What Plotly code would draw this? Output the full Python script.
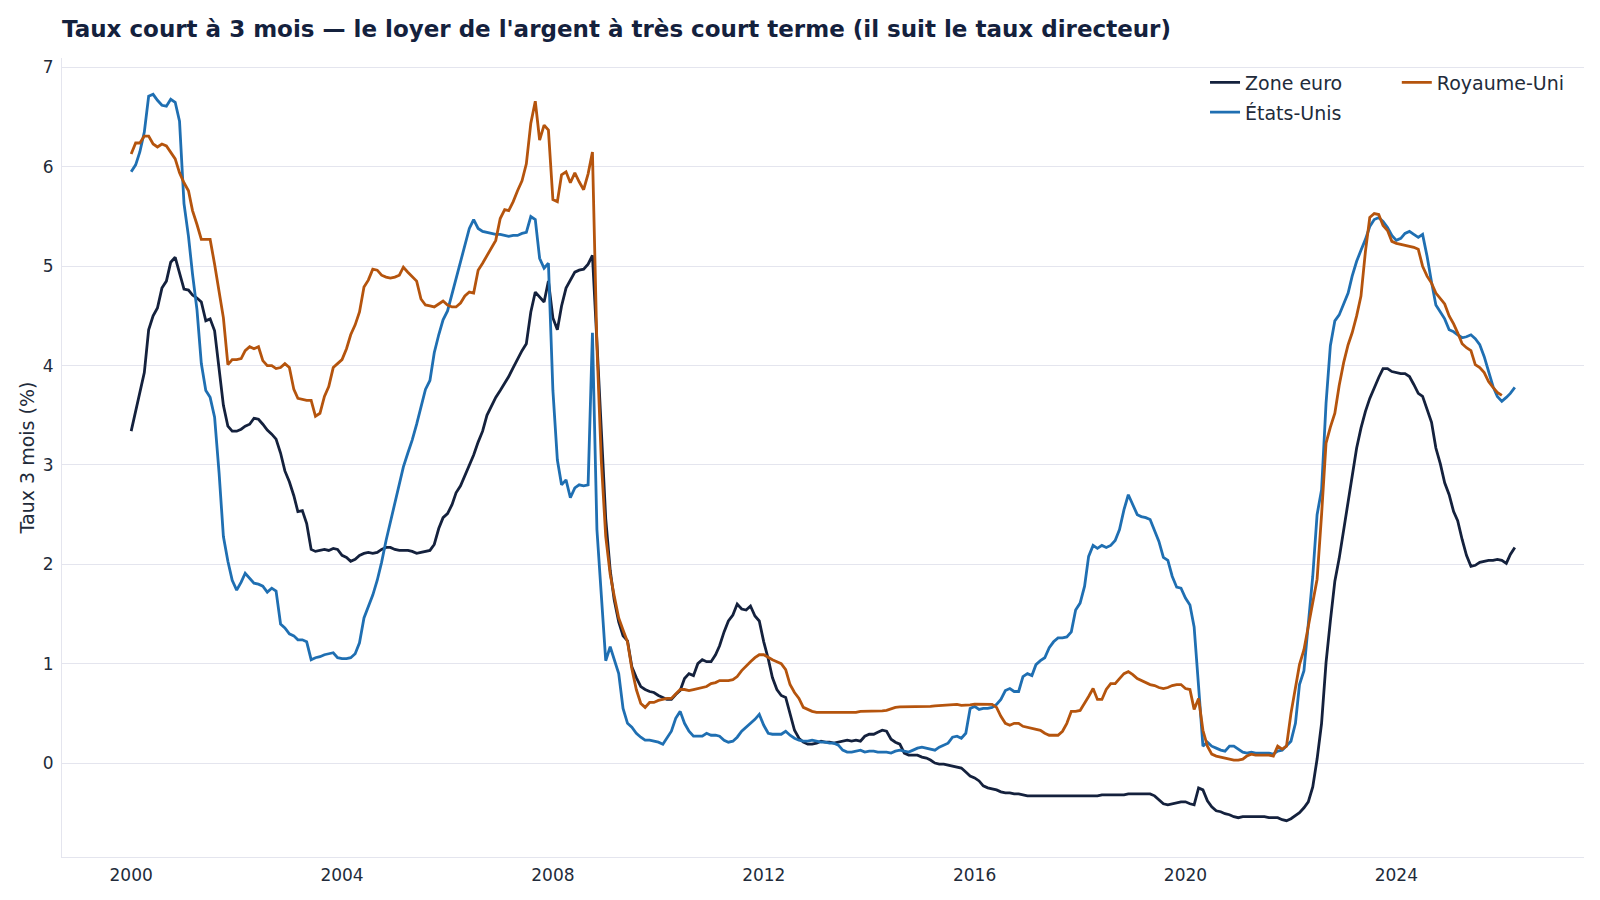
import pandas as pd
import plotly.graph_objects as go

# Taux à 3 mois, moyennes mensuelles (%), à partir de janvier 2000
start = "2000-01-01"

zone_euro = [
    3.34, 3.54, 3.75, 3.93, 4.36, 4.50, 4.58, 4.78, 4.85, 5.04, 5.09, 4.94,  # 2000
    4.77, 4.76, 4.71, 4.68, 4.64, 4.45, 4.47, 4.35, 3.98, 3.60, 3.39, 3.34,  # 2001
    3.34, 3.36, 3.39, 3.41, 3.47, 3.46, 3.41, 3.35, 3.31, 3.26, 3.12, 2.94,  # 2002
    2.83, 2.69, 2.53, 2.54, 2.41, 2.15, 2.13, 2.14, 2.15, 2.14, 2.16, 2.15,  # 2003
    2.09, 2.07, 2.03, 2.05, 2.09, 2.11, 2.12, 2.11, 2.12, 2.15, 2.17, 2.17,  # 2004
    2.15, 2.14, 2.14, 2.14, 2.13, 2.11, 2.12, 2.13, 2.14, 2.20, 2.36, 2.47,  # 2005
    2.51, 2.60, 2.72, 2.79, 2.89, 2.99, 3.10, 3.23, 3.34, 3.50, 3.60, 3.68,  # 2006
    3.75, 3.82, 3.89, 3.98, 4.07, 4.15, 4.22, 4.54, 4.74, 4.69, 4.64, 4.85,  # 2007
    4.48, 4.36, 4.60, 4.78, 4.86, 4.94, 4.96, 4.97, 5.02, 5.11, 4.24, 3.29,  # 2008
    2.46, 1.94, 1.64, 1.42, 1.28, 1.23, 0.97, 0.86, 0.77, 0.74, 0.72, 0.71,  # 2009
    0.68, 0.66, 0.64, 0.64, 0.69, 0.73, 0.85, 0.90, 0.88, 1.00, 1.04, 1.02,  # 2010
    1.02, 1.09, 1.18, 1.32, 1.43, 1.49, 1.60, 1.55, 1.54, 1.58, 1.48, 1.43,  # 2011
    1.22, 1.05, 0.86, 0.74, 0.68, 0.66, 0.50, 0.33, 0.25, 0.21, 0.19, 0.19,  # 2012
    0.20, 0.22, 0.21, 0.21, 0.20, 0.21, 0.22, 0.23, 0.22, 0.23, 0.22, 0.27,  # 2013
    0.29, 0.29, 0.31, 0.33, 0.32, 0.24, 0.21, 0.19, 0.10, 0.08, 0.08, 0.08,  # 2014
    0.06, 0.05, 0.03, 0.00, -0.01, -0.01, -0.02, -0.03, -0.04, -0.05, -0.09, -0.13,  # 2015
    -0.15, -0.18, -0.23, -0.25, -0.26, -0.27, -0.29, -0.30, -0.30, -0.31, -0.31, -0.32,  # 2016
    -0.33, -0.33, -0.33, -0.33, -0.33, -0.33, -0.33, -0.33, -0.33, -0.33, -0.33, -0.33,  # 2017
    -0.33, -0.33, -0.33, -0.33, -0.33, -0.32, -0.32, -0.32, -0.32, -0.32, -0.32, -0.31,  # 2018
    -0.31, -0.31, -0.31, -0.31, -0.31, -0.33, -0.37, -0.41, -0.42, -0.41, -0.40, -0.39,  # 2019
    -0.39, -0.41, -0.42, -0.25, -0.27, -0.38, -0.44, -0.48, -0.49, -0.51, -0.52, -0.54,  # 2020
    -0.55, -0.54, -0.54, -0.54, -0.54, -0.54, -0.54, -0.55, -0.55, -0.55, -0.57, -0.58,  # 2021
    -0.56, -0.53, -0.50, -0.45, -0.39, -0.24, 0.04, 0.40, 1.01, 1.43, 1.83, 2.06,  # 2022
    2.35, 2.64, 2.91, 3.17, 3.37, 3.54, 3.67, 3.78, 3.88, 3.97, 3.97, 3.94,  # 2023
    3.93, 3.92, 3.92, 3.89, 3.81, 3.72, 3.69, 3.55, 3.43, 3.17, 3.01, 2.82,  # 2024
    2.70, 2.53, 2.44, 2.25, 2.09, 1.98, 1.99, 2.02, 2.03, 2.04, 2.04, 2.05,  # 2025
    2.04, 2.01, 2.10, 2.17,  # 2026
]

etats_unis = [
    5.95, 6.02, 6.15, 6.35, 6.71, 6.73, 6.67, 6.62, 6.61, 6.68, 6.65, 6.46,  # 2000
    5.63, 5.30, 4.92, 4.56, 4.02, 3.75, 3.68, 3.48, 2.92, 2.28, 2.03, 1.84,  # 2001
    1.74, 1.82, 1.91, 1.86, 1.81, 1.80, 1.78, 1.72, 1.76, 1.73, 1.40, 1.36,  # 2002
    1.30, 1.28, 1.24, 1.24, 1.22, 1.04, 1.06, 1.07, 1.09, 1.10, 1.11, 1.06,  # 2003
    1.05, 1.05, 1.06, 1.10, 1.21, 1.46, 1.58, 1.69, 1.84, 2.02, 2.24, 2.42,  # 2004
    2.60, 2.78, 2.98, 3.12, 3.25, 3.41, 3.59, 3.76, 3.85, 4.13, 4.31, 4.46,  # 2005
    4.55, 4.72, 4.90, 5.06, 5.22, 5.38, 5.47, 5.38, 5.35, 5.34, 5.33, 5.32,  # 2006
    5.32, 5.31, 5.30, 5.31, 5.31, 5.33, 5.34, 5.50, 5.47, 5.08, 4.98, 5.03,  # 2007
    3.75, 3.05, 2.80, 2.85, 2.67, 2.77, 2.80, 2.79, 2.80, 4.33, 2.35, 1.70,  # 2008
    1.03, 1.17, 1.03, 0.90, 0.55, 0.40, 0.36, 0.30, 0.26, 0.23, 0.23, 0.22,  # 2009
    0.21, 0.19, 0.25, 0.32, 0.45, 0.52, 0.40, 0.32, 0.27, 0.27, 0.27, 0.30,  # 2010
    0.28, 0.28, 0.27, 0.23, 0.21, 0.22, 0.26, 0.32, 0.36, 0.40, 0.44, 0.49,  # 2011
    0.38, 0.30, 0.29, 0.29, 0.29, 0.32, 0.28, 0.25, 0.23, 0.22, 0.22, 0.23,  # 2012
    0.22, 0.21, 0.21, 0.20, 0.20, 0.18, 0.13, 0.11, 0.11, 0.12, 0.13, 0.11,  # 2013
    0.12, 0.12, 0.11, 0.11, 0.11, 0.10, 0.12, 0.13, 0.12, 0.11, 0.13, 0.15,  # 2014
    0.16, 0.15, 0.14, 0.13, 0.16, 0.18, 0.20, 0.26, 0.27, 0.25, 0.30, 0.55,  # 2015
    0.57, 0.54, 0.55, 0.55, 0.56, 0.59, 0.64, 0.73, 0.75, 0.72, 0.72, 0.87,  # 2016
    0.90, 0.88, 0.99, 1.03, 1.06, 1.16, 1.22, 1.26, 1.26, 1.27, 1.32, 1.54,  # 2017
    1.61, 1.78, 2.08, 2.19, 2.16, 2.19, 2.17, 2.19, 2.24, 2.35, 2.55, 2.70,  # 2018
    2.60, 2.50, 2.48, 2.47, 2.45, 2.33, 2.23, 2.07, 2.04, 1.88, 1.77, 1.76,  # 2019
    1.66, 1.59, 1.37, 0.77, 0.17, 0.21, 0.17, 0.15, 0.13, 0.12, 0.17, 0.17,  # 2020
    0.14, 0.11, 0.10, 0.11, 0.10, 0.10, 0.10, 0.10, 0.09, 0.12, 0.13, 0.17,  # 2021
    0.22, 0.40, 0.79, 0.93, 1.40, 1.88, 2.50, 2.75, 3.62, 4.20, 4.45, 4.51,  # 2022
    4.62, 4.73, 4.90, 5.05, 5.16, 5.27, 5.40, 5.47, 5.49, 5.45, 5.39, 5.31,  # 2023
    5.26, 5.28, 5.33, 5.35, 5.32, 5.29, 5.32, 5.10, 4.84, 4.61, 4.54, 4.47,  # 2024
    4.36, 4.34, 4.31, 4.28, 4.29, 4.31, 4.27, 4.21, 4.09, 3.95, 3.79, 3.69,  # 2025
    3.64, 3.68, 3.72, 3.78,  # 2026
]

royaume_uni = [
    6.13, 6.24, 6.24, 6.31, 6.31, 6.23, 6.20, 6.23, 6.21, 6.15, 6.08, 5.94,  # 2000
    5.84, 5.76, 5.56, 5.42, 5.27, 5.27, 5.27, 5.02, 4.75, 4.48, 4.01, 4.06,  # 2001
    4.06, 4.07, 4.15, 4.19, 4.17, 4.19, 4.05, 4.00, 4.00, 3.97, 3.98, 4.02,  # 2002
    3.98, 3.76, 3.67, 3.66, 3.65, 3.65, 3.49, 3.52, 3.69, 3.79, 3.98, 4.02,  # 2003
    4.06, 4.17, 4.31, 4.41, 4.54, 4.79, 4.86, 4.97, 4.96, 4.91, 4.89, 4.88,  # 2004
    4.89, 4.91, 4.99, 4.94, 4.90, 4.85, 4.67, 4.61, 4.60, 4.59, 4.62, 4.65,  # 2005
    4.61, 4.59, 4.59, 4.63, 4.70, 4.74, 4.73, 4.96, 5.03, 5.11, 5.19, 5.26,  # 2006
    5.48, 5.57, 5.56, 5.65, 5.76, 5.86, 6.03, 6.44, 6.66, 6.27, 6.42, 6.37,  # 2007
    5.67, 5.65, 5.92, 5.95, 5.84, 5.94, 5.85, 5.77, 5.93, 6.15, 4.20, 3.05,  # 2008
    2.28, 1.90, 1.68, 1.46, 1.34, 1.22, 0.95, 0.74, 0.60, 0.56, 0.61, 0.61,  # 2009
    0.63, 0.64, 0.65, 0.65, 0.69, 0.74, 0.74, 0.73, 0.74, 0.75, 0.76, 0.77,  # 2010
    0.80, 0.81, 0.83, 0.83, 0.83, 0.84, 0.87, 0.93, 0.98, 1.02, 1.06, 1.09,  # 2011
    1.09, 1.06, 1.04, 1.02, 1.00, 0.94, 0.79, 0.71, 0.65, 0.56, 0.54, 0.52,  # 2012
    0.51, 0.51, 0.51, 0.505, 0.505, 0.51, 0.51, 0.51, 0.51, 0.51, 0.52, 0.52,  # 2013
    0.52, 0.52, 0.525, 0.525, 0.53, 0.545, 0.56, 0.565, 0.565, 0.565, 0.57, 0.57,  # 2014
    0.57, 0.57, 0.57, 0.576, 0.58, 0.58, 0.586, 0.59, 0.59, 0.58, 0.58, 0.586,  # 2015
    0.593, 0.593, 0.59, 0.59, 0.59, 0.56, 0.47, 0.40, 0.38, 0.40, 0.40, 0.37,  # 2016
    0.36, 0.35, 0.34, 0.33, 0.30, 0.28, 0.28, 0.28, 0.32, 0.40, 0.52, 0.52,  # 2017
    0.53, 0.60, 0.67, 0.75, 0.64, 0.64, 0.74, 0.80, 0.80, 0.85, 0.90, 0.92,  # 2018
    0.89, 0.85, 0.83, 0.81, 0.79, 0.78, 0.76, 0.75, 0.76, 0.78, 0.79, 0.79,  # 2019
    0.75, 0.74, 0.54, 0.65, 0.33, 0.17, 0.09, 0.07, 0.06, 0.05, 0.04, 0.03,  # 2020
    0.03, 0.04, 0.07, 0.09, 0.08, 0.08, 0.08, 0.08, 0.07, 0.17, 0.14, 0.17,  # 2021
    0.50, 0.78, 0.99, 1.14, 1.37, 1.59, 1.85, 2.50, 3.22, 3.38, 3.52, 3.80,  # 2022
    4.03, 4.21, 4.33, 4.50, 4.70, 5.15, 5.49, 5.53, 5.52, 5.41, 5.36, 5.25,  # 2023
    5.23, 5.22, 5.21, 5.20, 5.19, 5.17, 5.00, 4.90, 4.83, 4.73, 4.67, 4.62,  # 2024
    4.50, 4.42, 4.33, 4.22, 4.18, 4.15, 4.01, 3.98, 3.93, 3.84, 3.78, 3.73,  # 2025
    3.70,  # 2026
]

series = [
    ("Zone euro", zone_euro, "#14213d", "legend"),
    ("États-Unis", etats_unis, "#1f6fb2", "legend"),
    ("Royaume-Uni", royaume_uni, "#b5540d", "legend2"),
]

font_family = "DejaVu Sans"
text_color = "#222b3a"
grid_color = "#e4e5ee"

fig = go.Figure()
all_dates = []
for name, values, color, leg in series:
    dates = pd.date_range(start, periods=len(values), freq="MS")
    all_dates.extend(dates)
    fig.add_trace(go.Scatter(
        x=dates,
        y=values,
        mode="lines",
        name=name,
        legendgroup=name,
        legend=leg,
        line=dict(color=color, width=2.8),
    ))

# marges de 5 % autour des données
all_values = zone_euro + etats_unis + royaume_uni
d0, d1 = min(all_dates), max(all_dates)
pad_x = (d1 - d0) * 0.05
v0, v1 = min(all_values), max(all_values)
pad_y = (v1 - v0) * 0.05

fig.update_layout(
    width=1600,
    height=900,
    margin=dict(l=54, r=24, t=50, b=51),
    paper_bgcolor="white",
    plot_bgcolor="white",
    font=dict(family=font_family, color=text_color, size=17),
    title=dict(
        text="<b>Taux court à 3 mois — le loyer de l'argent à très court terme (il suit le taux directeur)</b>",
        x=54 / 1600,
        xanchor="left",
        y=1 - 21 / 900,
        yanchor="middle",
        font=dict(family=font_family, size=23, color="#14213d"),
    ),
    legend=dict(
        x=0.751, y=0.993, xanchor="left", yanchor="top",
        bgcolor="rgba(0,0,0,0)",
        font=dict(family=font_family, size=19, color=text_color),
        tracegroupgap=2,
    ),
    legend2=dict(
        x=0.877, y=0.993, xanchor="left", yanchor="top",
        bgcolor="rgba(0,0,0,0)",
        font=dict(family=font_family, size=19, color=text_color),
    ),
    xaxis=dict(
        range=[d0 - pad_x, d1 + pad_x],
        tick0="2000-01-01",
        dtick="M48",
        tickformat="%Y",
        showgrid=False,
        zeroline=False,
        showline=True,
        linecolor=grid_color,
        linewidth=1.2,
        ticks="outside",
        ticklen=2,
        tickcolor="rgba(0,0,0,0)",
        tickfont=dict(size=17),
        automargin=False,
    ),
    yaxis=dict(
        range=[v0 - pad_y, v1 + pad_y],
        tick0=0,
        dtick=1,
        showgrid=True,
        gridcolor=grid_color,
        gridwidth=1.2,
        zeroline=False,
        showline=True,
        linecolor=grid_color,
        linewidth=1.2,
        ticks="outside",
        ticklen=4,
        tickcolor="rgba(0,0,0,0)",
        tickfont=dict(size=17),
        title=dict(text="Taux 3 mois (%)", font=dict(size=19), standoff=3),
        automargin=False,
    ),
)

fig.write_html("out.html")
